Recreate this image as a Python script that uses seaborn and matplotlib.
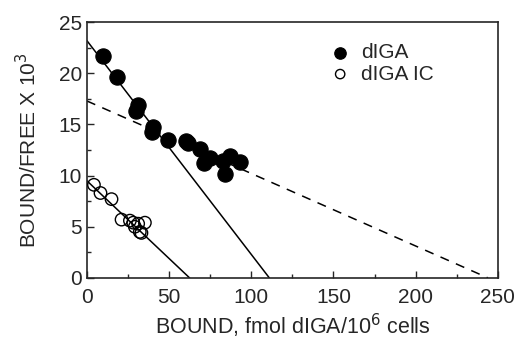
import numpy as np
import pandas as pd
import matplotlib
matplotlib.use("Agg")
import matplotlib.pyplot as plt
import seaborn as sns
from matplotlib.ticker import MultipleLocator

# dIGA (filled circles)
diga_bound = [9.9, 18.1, 31.2, 29.8, 40.4, 39.4, 49.5, 60.6, 61.6, 69.1, 74.8, 71.2, 82.9, 87.0, 84.3, 93.0]
diga_ratio = [21.7, 19.6, 16.9, 16.3, 14.8, 14.3, 13.5, 13.4, 13.2, 12.6, 11.7, 11.2, 11.4, 11.9, 10.2, 11.3]

# dIGA IC (open circles)
ic_bound = [4.3, 8.3, 15.0, 21.1, 26.2, 28.2, 31.2, 35.3, 29.2, 32.2, 33.2]
ic_ratio = [9.1, 8.3, 7.7, 5.7, 5.6, 5.4, 5.3, 5.4, 5.0, 4.5, 4.4]

# fitted lines (endpoints)
high_x = [0, 111]
high_y = [23.2, 0]
low_x = [0, 244]
low_y = [17.3, 0]
ic_x = [0, 62.5]
ic_y = [9.5, 0]

sns.set_style("ticks")
plt.rcParams['font.family'] = ['Liberation Sans', 'DejaVu Sans']

fig = plt.figure(figsize=(5.17, 3.41), dpi=100)
ax = fig.add_axes([0.168, 0.185, 0.795, 0.75])

sns.lineplot(x=high_x, y=high_y, ax=ax, color='black', lw=1.1)
sns.lineplot(x=low_x, y=low_y, ax=ax, color='black', lw=1.1, linestyle=(0, (6, 5)))
sns.lineplot(x=ic_x, y=ic_y, ax=ax, color='black', lw=1.1)

sns.scatterplot(x=diga_bound, y=diga_ratio, ax=ax, s=120, color='black',
                edgecolor='black', label='dIGA', zorder=3)
sns.scatterplot(x=ic_bound, y=ic_ratio, ax=ax, s=80, facecolor='none',
                edgecolor='black', linewidth=1.0, label='dIGA IC', zorder=3)

ax.set_xlim(0, 250)
ax.set_ylim(0, 25)
ax.xaxis.set_major_locator(MultipleLocator(50))
ax.xaxis.set_minor_locator(MultipleLocator(25))
ax.yaxis.set_major_locator(MultipleLocator(5))
ax.yaxis.set_minor_locator(MultipleLocator(2.5))
ax.tick_params(which='both', direction='in', labelsize=15, width=1.0)
ax.tick_params(which='major', length=5)
ax.tick_params(which='minor', length=3)
ax.tick_params(axis='x', pad=7)
for sp in ax.spines.values():
    sp.set_linewidth(1.2)

ax.set_xlabel('BOUND, fmol dIGA/10$^6$ cells', fontsize=15.5, labelpad=4)
ax.set_ylabel('BOUND/FREE X 10$^3$', fontsize=15, labelpad=13)

leg = ax.legend(loc='upper left', bbox_to_anchor=(0.52, 0.99), frameon=False,
                fontsize=15, handletextpad=0.0, labelspacing=0.1, markerscale=0.75)

fig.savefig('out.png', dpi=100)
